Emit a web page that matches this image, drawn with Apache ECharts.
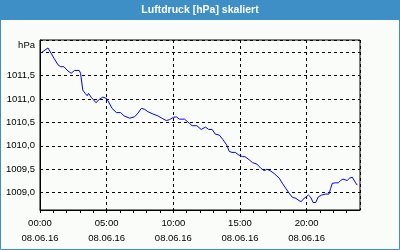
<!DOCTYPE html>
<html><head><meta charset="utf-8">
<script src="https://cdn.jsdelivr.net/npm/echarts@6/dist/echarts.min.js"></script>
<style>html,body{margin:0;padding:0;background:#fafcfa;}#c{width:400px;height:250px;}</style>
</head><body><div id="c"></div>
<script>
const titleText = 'Luftdruck [hPa] skaliert';
const unitLabel = 'hPa';
const dateLabel = '08.06.16';
const xTickHours = [0, 5, 10, 15, 20];
const yTickValues = [1009.0, 1009.5, 1010.0, 1010.5, 1011.0, 1011.5];
const hours = [0.05,0.6,0.75,1.05,1.35,1.55,1.79,2.09,2.34,2.59,2.94,3.04,3.21,3.39,3.54,3.64,3.83,4.21,4.39,4.71,5.01,5.16,5.4,5.73,6.05,6.3,6.73,7.1,7.35,7.6,7.85,8.09,8.47,8.84,9.14,9.47,9.72,10.01,10.22,10.46,10.84,11.21,11.41,11.76,12.09,12.41,12.65,12.91,13.15,13.45,13.7,14.0,14.2,14.4,14.65,14.87,15.19,15.37,15.7,15.94,16.27,16.57,16.82,17.02,17.26,17.56,17.94,18.18,18.44,18.68,18.93,19.19,19.43,19.6,19.73,20.13,20.31,20.48,20.68,20.87,21.13,21.43,21.67,21.8,21.92,22.17,22.37,22.55,22.72,22.87,23.04,23.22,23.42,23.54,23.67,23.79];
const pressure = [1011.98,1012.09,1012.09,1011.87,1011.73,1011.69,1011.69,1011.60,1011.55,1011.61,1011.61,1011.55,1011.19,1011.12,1011.07,1011.12,1011.04,1010.92,1010.98,1011.04,1011.01,1010.99,1010.80,1010.71,1010.71,1010.64,1010.59,1010.62,1010.70,1010.80,1010.78,1010.73,1010.68,1010.64,1010.59,1010.54,1010.56,1010.61,1010.62,1010.57,1010.57,1010.48,1010.43,1010.43,1010.35,1010.40,1010.35,1010.35,1010.25,1010.23,1010.14,1010.02,1009.88,1009.86,1009.86,1009.81,1009.77,1009.77,1009.70,1009.64,1009.61,1009.52,1009.47,1009.50,1009.47,1009.41,1009.31,1009.20,1009.09,1008.99,1008.90,1008.88,1008.83,1008.81,1008.86,1008.95,1008.90,1008.79,1008.79,1008.91,1008.95,1008.97,1008.97,1009.09,1009.20,1009.21,1009.21,1009.26,1009.29,1009.25,1009.26,1009.31,1009.33,1009.29,1009.21,1009.16];

const data = hours.map((h, i) => [h, pressure[i]]);
const font = 'Liberation Sans';
const chart = echarts.init(document.getElementById('c'), null, {renderer: 'canvas'});
chart.setOption({
  animation: false,
  backgroundColor: '#fafcfa',
  graphic: [
    {type: 'rect', z: -10, shape: {x: 0.5, y: 0.5, width: 399, height: 249}, style: {fill: '#fafcfa', stroke: '#3d8fc6', lineWidth: 1}},
    {type: 'rect', z: -9, shape: {x: 0, y: 0, width: 400, height: 20}, style: {fill: '#3d8fc6'}},
    {type: 'text', x: 200, y: 10, style: {text: titleText, fill: '#fff', font: 'bold 10.5px "' + font + '"', textAlign: 'center', textVerticalAlign: 'middle'}},
    {type: 'text', x: 35, y: 45, style: {text: unitLabel, fill: '#000', font: '9.5px "' + font + '"', textAlign: 'right', textVerticalAlign: 'middle'}}
  ],
  grid: {left: 40, top: 40, right: 40, bottom: 40, show: true, borderColor: '#000', borderWidth: 1, backgroundColor: 'transparent'},
  xAxis: [
    {type: 'value', min: 0, max: 24, interval: 1,
     axisLine: {show: true, onZero: false, lineStyle: {color: '#000', width: 1}},
     axisTick: {show: true, length: 3, lineStyle: {color: '#000'}},
     splitLine: {show: false},
     axisLabel: {show: true, margin: 6, color: '#000', fontFamily: font, fontSize: 9.5, lineHeight: 15,
       showMaxLabel: false,
       formatter: v => xTickHours.includes(v) ? (String(v).padStart(2, '0') + ':00\n' + dateLabel) : ''}},
    {type: 'value', min: 0, max: 24, interval: 5,
     axisLine: {show: false}, axisTick: {show: false}, axisLabel: {show: false},
     splitLine: {show: true, lineStyle: {color: '#000', width: 1, type: [3, 3]}}}
  ],
  yAxis: {type: 'value', min: 1008.63, max: 1012.26, splitNumber: 7, minInterval: 0.5, maxInterval: 0.5,
    axisLine: {show: true, lineStyle: {color: '#000'}},
    axisTick: {show: false},
    splitLine: {show: true, lineStyle: {color: '#000', width: 1, type: [3, 3]}},
    axisLabel: {margin: 5, color: '#000', fontFamily: font, fontSize: 9.5,
      showMinLabel: false, showMaxLabel: false,
      formatter: v => yTickValues.some(t => Math.abs(t - v) < 1e-6) ? v.toFixed(1).replace('.', ',') : ''}},
  series: [{type: 'line', data: data, xAxisIndex: 0, showSymbol: false, symbol: 'none',
    lineStyle: {color: '#0000ff', width: 1}, z: 5}]
});
</script></body></html>
